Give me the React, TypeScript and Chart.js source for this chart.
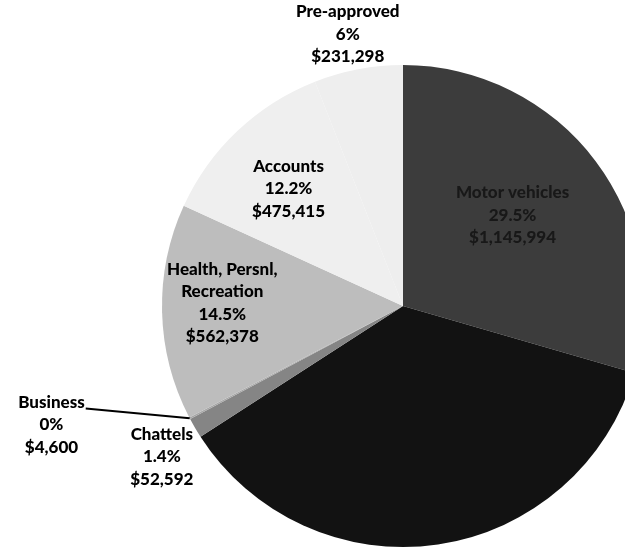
import React, { useEffect, useRef } from "react";
import { Chart, registerables } from "chart.js";

Chart.register(...registerables);

// ---- data ----
const categories = [
  "Motor vehicles",
  "Other",
  "Chattels",
  "Business",
  "Health, Persnl, Recreation",
  "Accounts",
  "Pre-approved",
];
const amounts = [1145994, 1414951, 52592, 4600, 562378, 475415, 231298];
const percentLabels = ["29.5%", "", "1.4%", "0%", "14.5%", "12.2%", "6%"];
const amountLabels = ["$1,145,994", "", "$52,592", "$4,600", "$562,378", "$475,415", "$231,298"];
const nameLines = [
  ["Motor vehicles"],
  [],
  ["Chattels"],
  ["Business"],
  ["Health, Persnl,", "Recreation"],
  ["Accounts"],
  ["Pre-approved"],
];

// ---- styles ----
const sliceColors = ["#3c3c3c", "#121212", "#858585", "#a8a8a8", "#bdbdbd", "#efefef", "#eeeeee"];
// label placement: angle in degrees clockwise from 12 o'clock, distance as fraction of radius
const labelAngles = [50.4, 0, 238, 251.3, 271, 315.7, 348.5];
const labelDist = [0.59, 0, 1.18, 1.54, 0.75, 0.68, 1.15];
const labelColors = ["#181818", "#000", "#000", "#000", "#000", "#000", "#000"];
const leaderFor = [false, false, false, true, false, false, false];

const labelPlugin = {
  id: "sliceLabels",
  afterDatasetsDraw(chart: any) {
    const ctx = chart.ctx;
    const meta = chart.getDatasetMeta(0);
    const arc0 = meta.data[0];
    const cx = arc0.x;
    const cy = arc0.y;
    const r = arc0.outerRadius;
    const lh = 22.5;
    ctx.save();
    ctx.font = "900 17px Lato";
    ctx.textAlign = "center";
    ctx.textBaseline = "middle";
    categories.forEach((_, i) => {
      const lines = [...nameLines[i]];
      if (!lines.length) return;
      lines.push(percentLabels[i], amountLabels[i]);
      const a = (labelAngles[i] * Math.PI) / 180;
      const px = cx + Math.sin(a) * r * labelDist[i];
      const py = cy - Math.cos(a) * r * labelDist[i];
      const top = py - ((lines.length - 1) * lh) / 2;
      ctx.fillStyle = labelColors[i];
      lines.forEach((t, k) => ctx.fillText(t, px, top + k * lh));
      if (leaderFor[i]) {
        const arc = meta.data[i];
        const mid = (arc.startAngle + arc.endAngle) / 2;
        const w = ctx.measureText(lines[0]).width;
        ctx.strokeStyle = "#000";
        ctx.lineWidth = 2;
        ctx.beginPath();
        ctx.moveTo(px + w / 2 + 1, top + 6);
        ctx.lineTo(cx + Math.cos(mid) * r * 1.0, cy + Math.sin(mid) * r * 1.0);
        ctx.stroke();
      }
    });
    ctx.restore();
  },
};

export default function App() {
  const ref = useRef<HTMLCanvasElement>(null);
  useEffect(() => {
    if (!ref.current) return;
    const chart = new Chart(ref.current, {
      type: "pie",
      data: {
        labels: categories,
        datasets: [
          {
            data: amounts,
            backgroundColor: sliceColors,
            borderWidth: 0,
            hoverOffset: 0,
            offset: 0,
          },
        ],
      },
      options: {
        responsive: false,
        animation: false,
        devicePixelRatio: 1,
        layout: { padding: { left: 162, right: 162, top: 65, bottom: 1 } },
        plugins: {
          legend: { display: false },
          tooltip: { enabled: false },
        },
      },
      plugins: [labelPlugin],
    });
    return () => chart.destroy();
  }, []);
  return (
    <div
      style={{
        position: "fixed",
        left: 0,
        top: 0,
        width: 625,
        height: 548,
        overflow: "hidden",
        background: "#fff",
      }}
    >
      <canvas ref={ref} width={806} height={548} style={{ width: 806, height: 548, display: "block" }} />
    </div>
  );
}
